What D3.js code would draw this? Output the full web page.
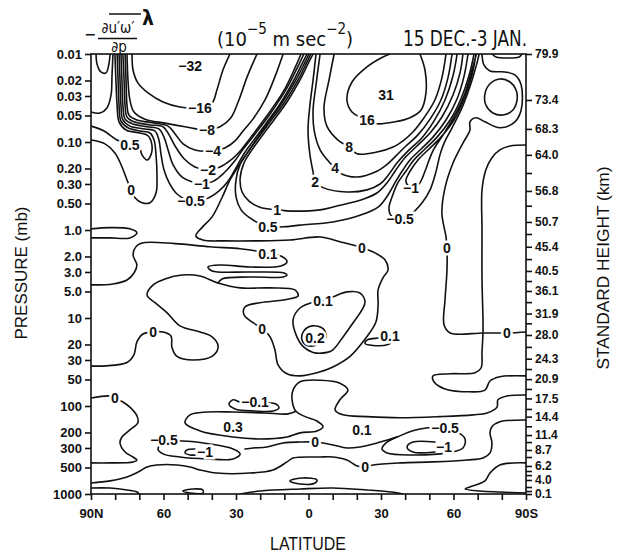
<!DOCTYPE html>
<html><head><meta charset="utf-8">
<script src="https://cdn.jsdelivr.net/npm/d3@7"></script>
<style>
body{margin:0;background:#fff}
svg{display:block}
text{fill:#111}
</style></head><body>
<svg id="chart" width="617" height="555"></svg>
<script>
// ---- axes ----
const pressureTicks = [0.01,0.02,0.03,0.05,0.1,0.2,0.3,0.5,1,2,3,5,10,20,30,50,100,200,300,500,1000];
const pressureTickLabels = ["0.01","0.02","0.03","0.05","0.10","0.20","0.30","0.50","1.0","2.0","3.0","5.0","10","20","30","50","100","200","300","500","1000"];
const latTicks = [90,60,30,0,-30,-60,-90];
const latTickLabels = ["90N","60","30","0","30","60","90S"];
const latMinorTicks = [90,80,70,60,50,40,30,20,10,0,-10,-20,-30,-40,-50,-60,-70,-80,-90];
const heightLabels = ["79.9","73.4","68.3","64.0","56.8","50.7","45.4","40.5","36.1","31.9","28.0","24.3","20.9","17.5","14.4","11.4","8.7","6.2","4.0","0.1"];
const heightLabelPressures = [0.01,0.0333,0.071,0.14,0.36,0.81,1.55,2.92,4.93,8.9,15.6,29,49.5,82,132,214,316,480,693,1000];
const heightMinorPressures = [0.225,0.53,1.11,2.14,3.8,6.6,11.5,21.3,38,64,108,170,257,380,548,610,833,925];

// ---- contour lines: level and traced [latitude, pressure mb] vertices ----
const contourLines = [
  {level:-16, pts:[[73,0.01],[72.6,0.0152],[70.6,0.0213],[66.4,0.0277],[60.2,0.0351],[53.2,0.04],[44.9,0.041],[39.9,0.036],[37.9,0.0256],[35.4,0.0152],[32.5,0.01]]},
  {level:-8, pts:[[75.1,0.01],[74.7,0.0197],[73.9,0.0333],[72.2,0.0456],[67.7,0.055],[59.4,0.061],[51.1,0.067],[42.4,0.073],[36.6,0.067],[32.1,0.053],[28.8,0.0333],[25.4,0.0182],[21.3,0.01]]},
  {level:-4, pts:[[75.9,0.01],[75.5,0.0197],[75.1,0.038],[74.3,0.0493],[71,0.0562],[63.5,0.061],[58.1,0.066],[55.2,0.081],[51.9,0.105],[47,0.123],[39.5,0.126],[34.6,0.117],[30.4,0.097],[27.1,0.075],[23,0.055],[18,0.0333],[13.9,0.0182],[10.5,0.01]]},
  {level:-2, pts:[[76.8,0.01],[76.3,0.0197],[75.9,0.038],[75.1,0.052],[72.2,0.059],[65.6,0.064],[60.2,0.067],[57.7,0.083],[55.2,0.111],[51.5,0.155],[47,0.192],[41.6,0.207],[36.6,0.192],[32.1,0.16],[27.9,0.123],[23.8,0.088],[17.6,0.052],[10.5,0.027],[5.6,0.0144],[3.1,0.01]]},
  {level:-1, pts:[[77.6,0.01],[77.2,0.0197],[76.8,0.038],[75.9,0.055],[73,0.062],[66.8,0.067],[61.9,0.071],[59.8,0.088],[58.1,0.123],[56.1,0.18],[52.3,0.25],[44.1,0.30],[39.5,0.28],[35,0.225],[30.8,0.168],[26.7,0.117],[22.1,0.081],[15.9,0.048],[8.9,0.0243],[4.3,0.0137],[1.9,0.01]]},
  {level:-0.5, pts:[[78.4,0.01],[78,0.0197],[77.6,0.038],[76.8,0.0562],[73.9,0.066],[67.7,0.071],[63.5,0.075],[61.9,0.095],[61,0.14],[59.8,0.207],[57.7,0.29],[54.4,0.39],[48.6,0.47],[42,0.44],[37,0.36],[33.3,0.28],[30,0.197],[26.7,0.136],[22.6,0.095],[18,0.064],[11.8,0.037],[6,0.0197],[2.3,0.0123],[0.6,0.01]]},
  {level:0, pts:[[79.2,0.01],[78.8,0.0197],[78.4,0.038],[77.6,0.058],[74.7,0.069],[69.7,0.075],[65.6,0.079],[63.9,0.095],[63.1,0.14],[62.7,0.24],[63.1,0.38],[65.6,0.49],[68.9,0.49],[71.8,0.43],[73.4,0.35],[75.1,0.27],[77.6,0.18],[80.1,0.133],[84.2,0.105],[90,0.095]]},
  {level:0.5, pts:[[80.1,0.01],[79.7,0.0197],[79.2,0.038],[78.4,0.059],[75.5,0.073],[69.7,0.079],[66.4,0.085],[64.8,0.108],[65.2,0.14],[66.8,0.16],[68.9,0.14],[70.1,0.114],[73.9,0.108],[79.2,0.095],[84.6,0.075],[90,0.066]]},
  {level:1, pts:[[90,0.0456],[86.3,0.0468],[83.4,0.041],[81.7,0.0292],[81.3,0.0173],[80.9,0.01]]},
  {level:2, pts:[[87.9,0.01],[87.5,0.013],[85.9,0.016],[83.8,0.0164],[82.6,0.013],[82.1,0.01]]},
  {level:0, pts:[[-0.2,0.01],[1.4,0.0123],[5.2,0.0197],[11,0.036],[17.2,0.062],[21.7,0.095],[25.9,0.14],[29.2,0.192],[32.5,0.27],[35.8,0.43],[39.9,0.71],[44.1,0.94],[46.6,1.17],[43.7,1.3],[34.6,1.33],[22.1,1.33],[7.7,1.3],[-4.8,1.2],[-13,1.36],[-22.1,1.59],[-27.5,1.82],[-31.7,2.19],[-32.9,2.85],[-30.8,3.5],[-28.8,4.8],[-28.8,7.1],[-27.9,11.1],[-23.8,16.8],[-17.2,27.3],[-10.1,36],[-3.5,42],[3.5,45.5],[8.9,43],[12.6,34],[13.9,23],[15.9,16.4],[19.2,13.2],[23.4,11.1],[26.7,9.2],[26.3,7.5],[20.1,6.7],[9.7,6.2],[4.3,5.6],[5.6,4.8],[15.9,4.55],[28.3,4.55],[37.4,4.0],[44.9,3.33],[52.3,3.25],[59.4,3.6],[64.3,4.2],[66.8,5.5],[63.5,6.7],[58.6,8.7],[53.2,12.3],[44.9,14.4],[39.9,16.4],[37.4,21],[39.5,26.7],[47.8,30],[54.4,27.3],[56.5,21.6],[56.9,16],[60.2,14.4],[64.3,14.4],[68.5,15.2],[71,18.7],[72.2,26],[75.1,32],[84.2,35],[90,35]]},
  {level:0.5, pts:[[-1,0.01],[0.6,0.0123],[4.3,0.0197],[10.1,0.036],[15.9,0.059],[20.9,0.09],[25,0.13],[28.3,0.18],[30,0.27],[30,0.42],[27.9,0.59],[24.2,0.73],[20.9,0.83],[16.8,0.92],[10.5,0.92],[3.5,0.88],[-10.1,0.81],[-21.3,0.68],[-28.8,0.55],[-32.9,0.40],[-35.8,0.29],[-38.7,0.215],[-42,0.16],[-46.6,0.12],[-51.5,0.088],[-56.9,0.0562],[-61.5,0.0322],[-64.4,0.0177],[-66,0.01]]},
  {level:1, pts:[[-1.9,0.01],[-0.2,0.0123],[3.5,0.0197],[8.9,0.0351],[14.3,0.0562],[19.2,0.085],[23.4,0.123],[26.7,0.173],[28.3,0.26],[27.5,0.37],[24.6,0.47],[20.1,0.55],[13,0.59],[5.6,0.61],[-4.8,0.59],[-11,0.54],[-21.3,0.46],[-28.3,0.38],[-32.5,0.29],[-36.2,0.207],[-39.9,0.151],[-44.9,0.111],[-50.3,0.079],[-55.2,0.052],[-59.8,0.0292],[-62.7,0.0164],[-63.9,0.01]]},
  {level:2, pts:[[-3.1,0.01],[-1.9,0.0197],[-0.6,0.038],[0.2,0.073],[-0.6,0.14],[-1.9,0.22],[-2.7,0.285],[-6,0.33],[-15.9,0.37],[-24.2,0.35],[-29.6,0.30],[-32.9,0.24],[-36.6,0.173],[-41.2,0.126],[-46.6,0.092],[-51.9,0.058],[-56.5,0.0333],[-59.8,0.0177],[-61.5,0.01]]},
  {level:4, pts:[[-4.8,0.01],[-3.1,0.0225],[-1.9,0.0433],[-2.3,0.073],[-4.8,0.123],[-8.9,0.173],[-11,0.197],[-13,0.225],[-20.1,0.25],[-28.3,0.215],[-32.5,0.18],[-36.2,0.144],[-40.3,0.111],[-45.3,0.083],[-50.3,0.055],[-54.8,0.0333],[-57.7,0.0187],[-59.4,0.01]]},
  {level:8, pts:[[-10.6,0.01],[-8.5,0.0197],[-6.4,0.041],[-7.7,0.067],[-12.2,0.095],[-16.8,0.114],[-20.1,0.136],[-28.3,0.13],[-35,0.114],[-39.5,0.095],[-43.2,0.077],[-47.8,0.053],[-52.3,0.0333],[-55.2,0.0187],[-56.9,0.01]]},
  {level:16, pts:[[-33.7,0.01],[-30.8,0.0108],[-24.2,0.014],[-18,0.0208],[-15.9,0.0333],[-18,0.0456],[-21.3,0.052],[-24.6,0.0562],[-28.3,0.062],[-35.8,0.059],[-42,0.053],[-46.6,0.0433],[-48.6,0.0277],[-48.2,0.0152],[-46.1,0.01]]},
  {level:0, pts:[[-71.8,0.01],[-72.6,0.0133],[-75.1,0.0156],[-81.3,0.016],[-85.4,0.0173],[-88,0.0225],[-88,0.0433],[-85.4,0.059],[-79.2,0.069],[-73,0.059],[-69.3,0.053],[-66.8,0.059],[-66.8,0.073],[-63.9,0.103],[-59.8,0.173],[-56.5,0.33],[-55.2,0.64],[-56.9,1.2],[-57.3,1.59],[-57.3,2.85],[-56.5,6.2],[-56.1,12],[-58.6,14.8],[-72.2,14.8],[-82.1,14.8],[-90,14.4]]},
  {level:-0.5, pts:[[-68.5,0.01],[-66.4,0.0177],[-63.1,0.0322],[-58.6,0.0562],[-53.2,0.088],[-48.2,0.12],[-43.6,0.16],[-40.3,0.215],[-37,0.29],[-34.6,0.42],[-33.3,0.56],[-34.2,0.69],[-37.9,0.75],[-42.4,0.66],[-47,0.49],[-50.3,0.35],[-52.7,0.22],[-54.4,0.14],[-56.1,0.103],[-59.4,0.069],[-63.5,0.041],[-67.2,0.0218],[-69.7,0.0127],[-70.6,0.01]]},
  {level:-1, pts:[[-69.3,0.01],[-67.6,0.0177],[-64.4,0.0322],[-60.2,0.0562],[-54.8,0.088],[-49.9,0.12],[-45.3,0.16],[-42,0.215],[-40.3,0.28],[-42.4,0.33],[-45.7,0.30],[-48.2,0.215],[-49.9,0.16],[-51.9,0.12],[-55.7,0.083],[-60.6,0.0493],[-64.8,0.0277],[-67.6,0.0152],[-69.5,0.01]]},
  {level:0.5, closed:true, pts:[[-79.2,0.0192],[-83.4,0.0208],[-85.9,0.0256],[-86.3,0.0333],[-84.6,0.0433],[-80.5,0.0493],[-76.3,0.0468],[-73.4,0.038],[-73,0.0285],[-75.1,0.0218]]},
  {level:0.5, pts:[[-76,0.01],[-77.6,0.0108],[-82.1,0.0111],[-87.1,0.0108],[-88.3,0.01]]},
  {level:0, pts:[[-90,0.108],[-83.4,0.111],[-79.2,0.123],[-75.9,0.151],[-73.4,0.207],[-71.8,0.35],[-71.8,1.0],[-71.8,3.7],[-72.2,10.5],[-72.2,14.8],[-71.8,24],[-71.4,37],[-68.9,42],[-58.6,43],[-51.5,45.5],[-51.9,53],[-56.5,64],[-66.8,69],[-73,66],[-75.1,52],[-79.2,46.5],[-90,45.5]]},
  {level:0.1, pts:[[90,4.2],[80.9,4.1],[75.1,3.7],[72.2,3.08],[71,2.5],[72.6,1.92],[71,1.51],[67.7,1.39],[55.2,1.43],[40.8,1.55],[28.3,1.63],[22.1,1.72],[16.8,1.87],[11,2.0],[8.9,2.3],[11.4,2.56],[24.2,2.63],[36.6,2.5],[41.6,2.63],[39.9,2.92],[24.2,3.0],[10.1,3.08],[8.9,3.25],[10.5,3.42],[24.2,3.42],[35.8,3.6],[37.4,4.0]]},
  {level:0.1, pts:[[90,0.97],[82.1,0.94],[73.9,0.97],[71,1.08],[73.9,1.23],[82.1,1.23],[90,1.23]]},
  {level:0.1, closed:true, pts:[[-6,6.4],[-2.7,6.55],[3.5,7.7],[6.4,10.5],[4.8,16.4],[2.3,21],[-1.9,24.6],[-7.7,24.6],[-10.1,23],[-14.3,16.4],[-18.4,11.4],[-22.1,8.1],[-23.4,6.55],[-21.3,5.2],[-15.9,5.05],[-11.8,5.5]]},
  {level:0.2, closed:true, pts:[[-1.5,12.3],[1.9,14],[2.7,17.8],[0.6,20.5],[-3.9,20],[-7.3,16.4],[-6,13.2]]},
  {level:0.1, pts:[[-33.7,16],[-29.6,16.8],[-24.2,17.8],[-23.4,19.5],[-26.7,20.5],[-32.9,20],[-34.6,18.6],[-33.7,16]]},
  {level:-0.1, pts:[[16.3,92],[13.5,95],[12.2,105],[14.7,114],[22.1,114],[30.4,108],[32.9,95],[31.2,85],[28.3,90],[22.1,90],[16.3,92]]},
  {level:0, pts:[[90,81],[82.1,77],[80.1,81],[76.8,90],[73.9,103],[71,129],[70.6,155],[73.9,187],[77.2,225],[78,263],[75.9,333],[72.6,380],[71,411],[72.6,432],[82.1,443],[90,443]]},
  {level:0.1, pts:[[-90,75],[-82.1,77],[-78.4,85],[-78,103],[-73.9,120],[-68.1,126],[-54.4,132],[-37.9,136],[-24.2,132],[-14.3,126],[-11,111],[-13,85],[-16.3,66],[-13,55],[-4.8,51],[3.5,53],[6.4,66],[6.8,85],[5.2,115],[1.4,132],[-3.5,148],[-6,172],[-3.5,192],[3.5,202],[8.9,225],[20.1,237],[31.2,225],[44.9,192],[51.1,155],[49,126],[42,117],[31.2,117],[18,120],[8.5,123],[5.2,115]]},
  {level:-0.5, closed:true, pts:[[52.3,250],[40.8,270],[31.2,308],[28.3,350],[31.2,400],[42,400],[53.2,380],[60.2,350],[62.3,308],[59.8,257]]},
  {level:-1, pts:[[47,308],[50.3,316],[51.1,341],[49,360],[46.6,360]]},
  {level:0, pts:[[90,750],[82.1,710],[75.1,640],[69.7,548],[66.8,493],[62.7,468],[54.4,468],[49,493],[44.9,533],[37.9,578],[24.2,578],[14.7,533],[8.9,432],[6.4,390],[-4.8,380],[-10.1,380],[-15.9,411],[-20.1,480],[-23.4,493],[-26.7,468],[-37.9,443],[-51.5,432],[-65.6,411],[-72.2,390],[-75.1,341],[-75.9,263],[-75.1,202],[-75.9,172],[-79.2,151],[-90,144]]},
  {level:0, pts:[[26.3,308],[23,300],[17.2,292],[10.5,263],[3.5,257],[-2.7,257],[-10.1,277],[-15.9,300],[-21.3,292],[-28.3,263],[-36.6,225],[-42.8,192],[-49.4,177],[-56.5,177]]},
  {level:-0.5, pts:[[-56.5,177],[-61.5,197],[-64.8,237],[-63.9,300],[-57.3,341],[-42,360],[-32.5,341],[-30.4,308],[-32.1,263],[-36.6,225]]},
  {level:-1, pts:[[-52.3,257],[-43.2,257],[-40.8,292],[-43.2,333],[-52.3,333]]},
  {level:0, pts:[[90,855],[82.1,855],[75.1,900],[71,950],[70.1,1000]]},
  {level:0, closed:true, pts:[[52,925],[47.8,877],[43.7,900],[43.7,975],[49,975]]},
  {level:0, pts:[[28.3,1000],[20.1,925],[3.5,877],[-10.1,855],[-24.2,900],[-34.6,950],[-39.1,1000]]},
  {level:0, closed:true, pts:[[7.7,710],[2.3,657],[-3.5,693],[-2.7,750],[3.5,770]]},
  {level:0, pts:[[-90,443],[-79.2,468],[-75.1,578],[-73,710],[-66.8,833],[-64.8,877],[-71,925],[-79.2,950],[-90,975]]}
];

// ---- contour value labels [level, latitude, pressure] ----
const contourLabels = [
  [-16,44.9,0.041],[-8,42,0.073],[-4,39.5,0.126],[-2,41.6,0.207],[-1,44.1,0.30],[-0.5,48.6,0.47],
  [0.5,73.9,0.108],[0,73.4,0.35],
  [16,-24.2,0.0562],[8,-16.8,0.114],[4,-11,0.197],[2,-2.7,0.285],[1,13,0.59],[0.5,16.8,0.92],
  [-1,-42.4,0.33],[-0.5,-37.9,0.75],[0,-22.1,1.59],[0,-57.3,1.59],
  [0.1,16.8,1.87],[0.1,-6,6.4],[0,19.2,13.2],[0,64.3,14.4],[0.2,-2.7,16.8],[0.1,-33.7,16],[0,-82.1,14.8],
  [0,80.1,81],[-0.1,22.1,90],[0.1,-22.1,187],[-0.5,59.8,243],[-1,42.8,333],[0,-2.7,257],
  [-0.5,-56.5,177],[-1,-56.1,292],[0,-23.4,493]
];
// ---- extreme values [value, latitude, pressure] ----
const extremeLabels = [[-32,49,0.0137],[31,-32.1,0.0292],[0.3,31.2,172]];

// ---- drawing ----
const W = 617, H = 555;
const svg = d3.select("#chart");
const x = d3.scaleLinear().domain([90,-90]).range([91,526]);
const y = d3.scaleLog().domain([0.01,1000]).range([54,494]);
const numFont = "'Liberation Sans', Arial, sans-serif";
const narrowFont = "'Liberation Sans Narrow', 'DejaVu Sans Condensed', 'Liberation Sans', sans-serif";

svg.append("rect").attr("width",W).attr("height",H).attr("fill","#fff");

svg.append("defs").append("clipPath").attr("id","plot")
  .append("rect").attr("x",x(90)).attr("y",y(0.01)).attr("width",x(-90)-x(90)).attr("height",y(1000)-y(0.01));

const fmt = v => (v < 0 ? "\u2212" : "") + Math.abs(v);

const line = d3.line().x(d=>x(d[0])).y(d=>y(d[1])).curve(d3.curveCatmullRom.alpha(0.5));
const lineClosed = d3.line().x(d=>x(d[0])).y(d=>y(d[1])).curve(d3.curveCatmullRomClosed.alpha(0.5));

const g = svg.append("g").attr("clip-path","url(#plot)");
g.selectAll("path.c").data(contourLines).join("path")
  .attr("class","c")
  .attr("d", d => (d.closed ? lineClosed : line)(d.pts))
  .attr("fill","none").attr("stroke","#111").attr("stroke-width",1.6)
  .attr("stroke-linejoin","round").attr("stroke-linecap","round");

const lab = svg.append("g").attr("font-family",numFont).attr("font-weight","bold").attr("font-size",14)
  .attr("text-anchor","middle");
lab.selectAll("text.cl").data(contourLabels).join("text")
  .attr("class","cl")
  .attr("x",d=>x(d[1])).attr("y",d=>y(d[2])).attr("dy","0.36em")
  .attr("stroke","#fff").attr("stroke-width",5).attr("paint-order","stroke")
  .text(d=>fmt(d[0]));
lab.selectAll("text.ex").data(extremeLabels).join("text")
  .attr("class","ex")
  .attr("x",d=>x(d[1])).attr("y",d=>y(d[2])).attr("dy","0.36em")
  .text(d=>fmt(d[0]));

// frame
svg.append("rect").attr("x",x(90)).attr("y",y(0.01)).attr("width",x(-90)-x(90)).attr("height",y(1000)-y(0.01))
  .attr("fill","none").attr("stroke","#111").attr("stroke-width",1.6);

// left axis
svg.append("g").attr("class","axL").attr("transform",`translate(${x(90)},0)`)
  .call(d3.axisLeft(y).tickValues(pressureTicks).tickFormat((d,i)=>pressureTickLabels[i]).tickSize(6).tickPadding(3));
// right axis
svg.append("g").attr("class","axR").attr("transform",`translate(${x(-90)},0)`)
  .call(d3.axisRight(y).tickValues(heightLabelPressures).tickFormat((d,i)=>heightLabels[i]).tickSize(6).tickPadding(3));
svg.append("g").attr("transform",`translate(${x(-90)},0)`)
  .call(d3.axisRight(y).tickValues(heightMinorPressures).tickFormat("").tickSize(6));
// bottom axis
svg.append("g").attr("class","axB").attr("transform",`translate(0,${y(1000)})`)
  .call(d3.axisBottom(x).tickValues(latMinorTicks).tickFormat(d=>{const i=latTicks.indexOf(d);return i<0?"":latTickLabels[i];}).tickSize(6).tickPadding(9));
svg.selectAll(".domain").remove();
svg.selectAll(".tick line").attr("stroke","#111").attr("stroke-width",1.6);
svg.selectAll(".tick text").attr("font-family",numFont).attr("font-weight","bold").attr("font-size",13).attr("fill","#111");
svg.selectAll(".axR .tick text").attr("font-size",12);

// axis titles
svg.append("text").attr("transform","translate(27,273) rotate(-90)").attr("text-anchor","middle")
  .attr("font-family",numFont).attr("font-size",17).attr("textLength",133).attr("lengthAdjust","spacingAndGlyphs")
  .text("PRESSURE  (mb)");
svg.append("text").attr("transform","translate(609,268) rotate(-90)").attr("text-anchor","middle")
  .attr("font-family",numFont).attr("font-size",17).attr("textLength",203).attr("lengthAdjust","spacingAndGlyphs")
  .text("STANDARD HEIGHT  (km)");
svg.append("text").attr("x",308).attr("y",550).attr("text-anchor","middle")
  .attr("font-family",numFont).attr("font-size",18).attr("textLength",76).attr("lengthAdjust","spacingAndGlyphs")
  .text("LATITUDE");

// header: derivative expression, units and period
const hd = svg.append("g").attr("font-family",narrowFont).attr("fill","#111");
hd.append("text").attr("x",84).attr("y",40).attr("font-size",16).text("\u2212");
hd.append("text").attr("x",118).attr("y",33).attr("text-anchor","middle").attr("font-size",15).text("\u2202u\u2032\u03c9\u2032");
hd.append("line").attr("x1",109).attr("x2",141).attr("y1",14).attr("y2",14).attr("stroke","#111").attr("stroke-width",1.5);
hd.append("line").attr("x1",98).attr("x2",137).attr("y1",38.5).attr("y2",38.5).attr("stroke","#111").attr("stroke-width",1.3);
hd.append("text").attr("x",119).attr("y",52).attr("text-anchor","middle").attr("font-size",15).text("\u2202p");
hd.append("text").attr("x",142).attr("y",25).attr("font-size",21).attr("font-weight","bold").text("\u03bb");
const unit = hd.append("text").attr("x",217).attr("y",46).attr("font-size",20);
unit.append("tspan").text("(10");
unit.append("tspan").attr("dy",-12).attr("font-size",15).text("\u22125");
unit.append("tspan").attr("dy",12).text(" m sec");
unit.append("tspan").attr("dy",-12).attr("font-size",15).text("\u22122");
unit.append("tspan").attr("dy",12).text(")");
hd.append("text").attr("x",403).attr("y",46).attr("font-size",21).attr("textLength",124).attr("lengthAdjust","spacingAndGlyphs")
  .text("15 DEC.-3 JAN.");
</script>
</body></html>
